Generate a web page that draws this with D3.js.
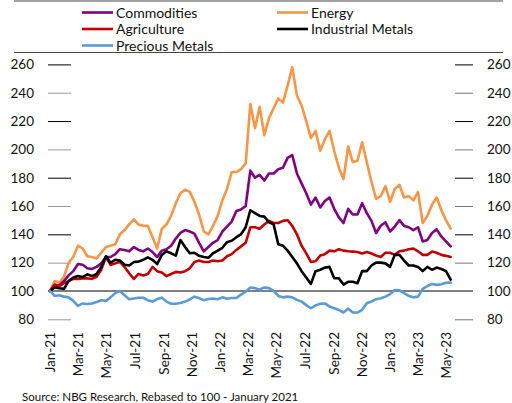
<!DOCTYPE html>
<html><head><meta charset="utf-8">
<script src="https://cdn.jsdelivr.net/npm/d3@7"></script>
<style>
body{margin:0;background:#fff}
svg{display:block}
text{font-family:Lato,"Open Sans",sans-serif;fill:#111}
</style>
</head><body>
<svg id="c" width="512" height="403"></svg>
<script>
// ---- data (rebased to 100, Jan 2021), 10-day sampling ----
const dates = ["2021-01-01","2021-01-11","2021-01-21","2021-01-31","2021-02-10","2021-02-20","2021-03-02","2021-03-12","2021-03-22","2021-04-01",
"2021-04-11","2021-04-21","2021-05-01","2021-05-11","2021-05-21","2021-05-31","2021-06-10","2021-06-20","2021-06-30","2021-07-10",
"2021-07-20","2021-07-30","2021-08-09","2021-08-19","2021-08-29","2021-09-08","2021-09-18","2021-09-28","2021-10-08","2021-10-18",
"2021-10-28","2021-11-07","2021-11-17","2021-11-27","2021-12-07","2021-12-17","2021-12-27","2022-01-06","2022-01-16","2022-01-26",
"2022-02-05","2022-02-15","2022-02-25","2022-03-07","2022-03-17","2022-03-27","2022-04-06","2022-04-16","2022-04-26","2022-05-06",
"2022-05-16","2022-05-26","2022-06-05","2022-06-15","2022-06-25","2022-07-05","2022-07-15","2022-07-25","2022-08-04","2022-08-14",
"2022-08-24","2022-09-03","2022-09-13","2022-09-23","2022-10-03","2022-10-13","2022-10-23","2022-11-02","2022-11-12","2022-11-22",
"2022-12-02","2022-12-12","2022-12-22","2023-01-01","2023-01-11","2023-01-21","2023-01-31","2023-02-10","2023-02-20","2023-03-02",
"2023-03-12","2023-03-22","2023-04-01","2023-04-11","2023-04-21","2023-05-01","2023-05-11"];

const commodities = [100,104,104,107,111,114,119,118.5,116,115.5,
117,119.5,124,124,126,129.5,129,128,131,129,
128,130,127.5,124,128.5,129.5,132,137,141,143,
142,140.5,134,128,131,134,136,142,145.5,149,
156.5,157.5,160,185,180,182,178,183,183,186,
187,194,196,183,176,169,161,166,159,163.5,
166,158,152,148,158,154,154,162,155,149.5,
141,146,148.5,142,145.5,150,146,145,143,145,
135,136,141,143.5,138.5,135,131.5];

const energy = [100,107,106,110,120,124,132,130,124.5,124,
123,127,131,132,133,140,143,147,150.5,147,
146,146,138,130,144,147,153,162,169,171.5,
170,163,154,142,140,146,153,164,172,184,
184,186,190,232,215,230,210,222,229,236,
233,245,258,238,231,220,208,213,199,207,
213,199,187,179,202,191,192,205,191,177,
165,167,174,163,172,175,166,167,164,170,
148,153,161,166,157,150,144];

const agriculture = [100,104.5,103.5,105.5,107,108.5,108.5,108.8,109,108.5,
110,115,124,118.4,119.5,120.5,117,112.5,108.5,112,
111,112,117,114,113,110.5,112,113.5,113,114,
116,120.5,121.5,120.5,120.5,121.5,121,121.5,124.5,126,
129,131.5,134,145,145,144,147,149.5,148,148,
149.5,150,146,140,132,126.6,120.5,121,125,126,
128.5,128,129.5,128.5,128,127.8,127.5,126.5,127.5,126.5,
125,124,127,127,125.5,128,128.5,129.5,130,128,
125.5,125.5,127.8,127,125.5,124.8,124];

const industrialMetals = [100,102.5,101.9,101.5,107,109.5,110.5,109.8,111.8,110.5,
112,117,124.5,120,122,121.5,118.5,118,120.5,120.7,
122,123.7,122,119,125.5,128,126.6,125,136,131,
126.6,127,124.8,124,123.5,126.6,128.5,130.5,134.5,135.5,
138,140,145,157,155,153,152.5,148.5,147,133,
132,128.5,124,119.5,114,109.5,105,114,115,116.5,
117,109,109,104.5,106.5,106.5,105.5,114,114,118,
120,120,119.5,117,125.5,125.5,121.5,118,118,117,
114,117,115,116.5,115.5,114,108];

const preciousMetals = [100,96.5,97,96,95.5,93,89.5,91.2,90.8,91.2,
92.2,93.5,93,95.5,98.5,100,97,94.2,94.7,95.2,
95.2,93.5,92.5,94.3,95.3,92.5,91,91,91.5,92.5,
94,96,95,93.5,94.3,94.7,94.2,95.5,94.5,95,
95,97.5,99.5,102.5,102,101,102.5,102,100,96.5,
95.5,96,95.5,93.7,92.5,90,87.8,89.8,91,91.2,
89,87.8,86.6,84.8,87.5,84.8,84.8,86.7,91.4,92.6,
94.2,94.8,96,97.8,100.7,100.5,98.5,96.5,95.5,96,
101.5,103.5,105,104.3,104.8,105.8,105.9];

const seriesNames = ["Commodities","Energy","Agriculture","Industrial Metals","Precious Metals"];
const yTicks = [80,100,120,140,160,180,200,220,240,260];
const xTickDates = ["2021-01-01","2021-03-01","2021-05-01","2021-07-01","2021-09-01","2021-11-01","2022-01-01","2022-03-01","2022-05-01","2022-07-01","2022-09-01","2022-11-01","2023-01-01","2023-03-01","2023-05-01"];
const xTickLabels = ["Jan-21","Mar-21","May-21","Jul-21","Sep-21","Nov-21","Jan-22","Mar-22","May-22","Jul-22","Sep-22","Nov-22","Jan-23","Mar-23","May-23"];
const sourceNote = "Source: NBG Research, Rebased to 100 - January 2021";

// ---- setup ----
const parse = d3.timeParse("%Y-%m-%d");
const dts = dates.map(parse);
const svg = d3.select("#c");
const colors = {"Commodities":"#800080","Energy":"#F79646","Agriculture":"#C00000","Industrial Metals":"#000000","Precious Metals":"#5B9BD5"};
const values = {"Commodities":commodities,"Energy":energy,"Agriculture":agriculture,"Industrial Metals":industrialMetals,"Precious Metals":preciousMetals};

const x = d3.scaleTime().domain([parse("2021-01-01"), parse("2023-05-01")]).range([50, 446]);
const y = d3.scaleLinear().domain([80, 260]).range([319.3, 64.4]);

// frame lines
svg.append("line").attr("x1",14).attr("x2",503).attr("y1",1).attr("y2",1).attr("stroke","#444").attr("stroke-width",1.2);
svg.append("line").attr("x1",14).attr("x2",503).attr("y1",52.5).attr("y2",52.5).attr("stroke","#444").attr("stroke-width",1.2);

// left axis
const gl = svg.append("g").attr("transform","translate(71,0)")
  .call(d3.axisLeft(y).tickValues(yTicks).tickSize(23).tickPadding(14).tickFormat(d3.format("d")));
gl.select(".domain").remove();
gl.selectAll("text").style("font-size","13.5px").attr("fill","#111");
gl.selectAll(".tick line").attr("stroke",(d)=> (d===100? "none" : ((d/20)%2===1 ? "#000" : "#9a9a9a"))).attr("stroke-width",1);

// right axis
const gr = svg.append("g").attr("transform","translate(455,0)")
  .call(d3.axisRight(y).tickValues(yTicks).tickSize(18).tickPadding(14).tickFormat(d3.format("d")));
gr.select(".domain").remove();
gr.selectAll("text").style("font-size","13.5px").attr("fill","#111");
gr.selectAll(".tick line").attr("stroke",(d)=> (d===100? "none" : ((d/20)%2===1 ? "#000" : "#777"))).attr("stroke-width",1);

// baseline at 100
svg.append("line").attr("x1",48).attr("x2",473).attr("y1",y(100)).attr("y2",y(100)).attr("stroke","#000").attr("stroke-width",1.1);

// x axis labels
const gx = svg.append("g").attr("transform","translate(0,320)")
  .call(d3.axisBottom(x).tickValues(xTickDates.map(parse)).tickSize(0).tickFormat((d,i)=>xTickLabels[i]));
gx.select(".domain").remove();
gx.selectAll("text").style("font-size","13.5px").attr("fill","#111")
  .attr("transform","rotate(-90)").attr("text-anchor","end")
  .attr("x",-12).attr("y",0).attr("dy","0.36em");

// lines
const line = d3.line().x((d,i)=>x(dts[i])).y(d=>y(d));
const drawOrder = ["Energy","Commodities","Agriculture","Industrial Metals","Precious Metals"];
drawOrder.forEach(name=>{
  svg.append("path").datum(values[name]).attr("d",line)
    .attr("fill","none").attr("stroke",colors[name]).attr("stroke-width",2.6)
    .attr("stroke-linejoin","round").attr("stroke-linecap","round");
});

// legend
const legendPos = [[82,12.5],[277,12.5],[82,29],[277,29],[82,45.5]];
seriesNames.forEach((name,i)=>{
  const [lx,ly] = legendPos[i];
  svg.append("line").attr("x1",lx).attr("x2",lx+31).attr("y1",ly).attr("y2",ly)
    .attr("stroke",colors[name]).attr("stroke-width",2.6);
  svg.append("text").attr("x",lx+34).attr("y",ly).attr("dy","0.36em")
    .style("font-size","14px").text(name);
});

// source
svg.append("text").attr("x",22).attr("y",397).attr("dy","0.35em").style("font-size","11.5px").text(sourceNote);
</script>
</body></html>
